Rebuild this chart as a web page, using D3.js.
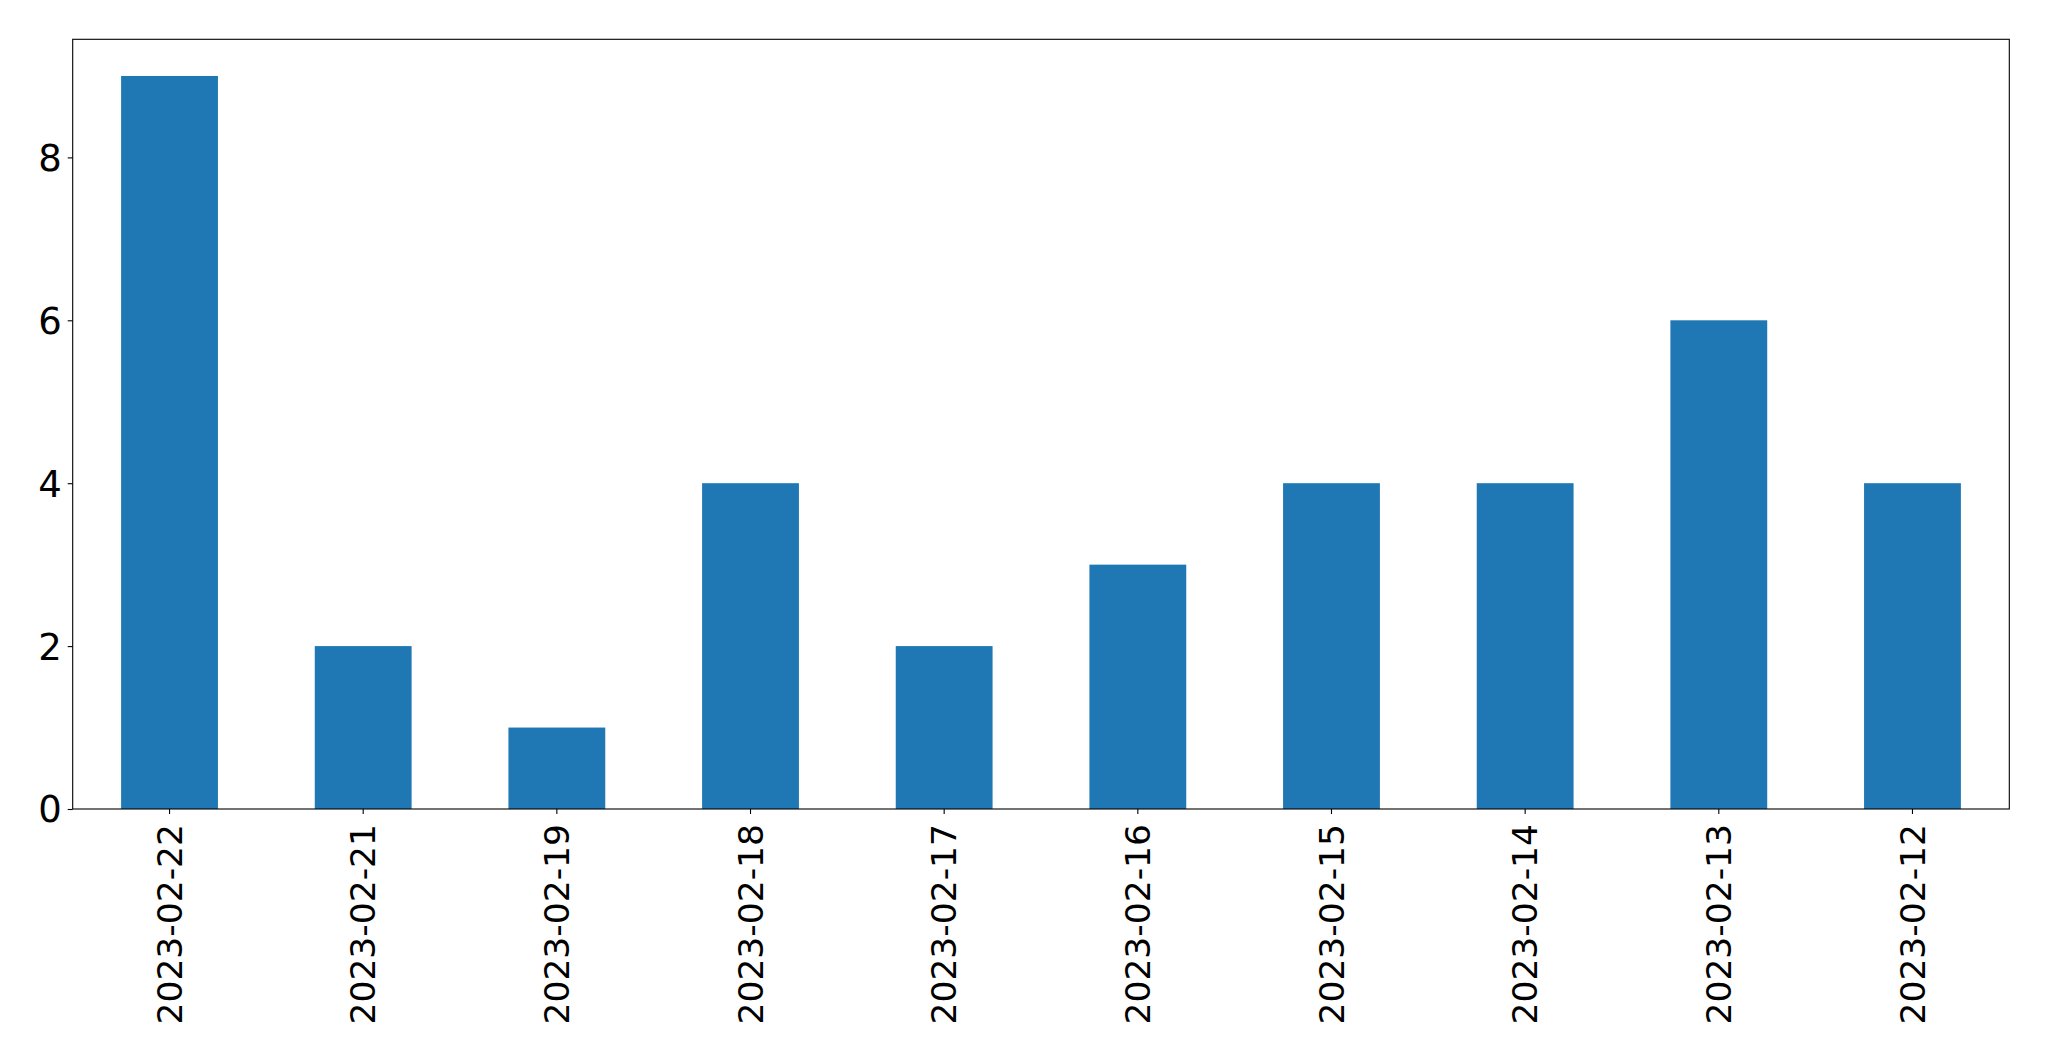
<!DOCTYPE html>
<html>
<head>
<meta charset="utf-8">
<script src="https://cdn.jsdelivr.net/npm/d3@7"></script>
<style>
  html, body { margin: 0; padding: 0; background: #fff; }
  svg { display: block; }
  text { font-family: "DejaVu Sans", sans-serif; fill: #000; }
</style>
</head>
<body>
<script>
const categories = ["2023-02-22","2023-02-21","2023-02-19","2023-02-18","2023-02-17","2023-02-16","2023-02-15","2023-02-14","2023-02-13","2023-02-12"];
const values = [9, 2, 1, 4, 2, 3, 4, 4, 6, 4];
const yTicks = [0, 2, 4, 6, 8];

const W = 2049, H = 1061;
const margin = {left: 72.7, right: W - 2009.3, top: 39.3, bottom: H - 809};
const iw = W - margin.left - margin.right;
const ih = H - margin.top - margin.bottom;

const svg = d3.select("body").append("svg").attr("width", W).attr("height", H);
const g = svg.append("g").attr("transform", `translate(${margin.left},${margin.top})`);

const x = d3.scaleBand().domain(categories).range([0, iw]).paddingInner(0.5).paddingOuter(0.25);
const y = d3.scaleLinear().domain([0, d3.max(values) * 1.05]).range([ih, 0]);

g.selectAll("rect.bar").data(categories).enter().append("rect")
  .attr("class", "bar")
  .attr("x", d => x(d))
  .attr("width", x.bandwidth())
  .attr("y", (d, i) => y(values[i]))
  .attr("height", (d, i) => ih - y(values[i]))
  .attr("fill", "#1f77b4");

// y axis
const yAxis = g.append("g").call(d3.axisLeft(y).tickValues(yTicks).tickSize(5).tickPadding(6).tickFormat(d3.format("d")));
yAxis.select(".domain").remove();
yAxis.selectAll("line").attr("stroke", "#000").attr("stroke-width", 1.1);
yAxis.selectAll("text").style("font-size", "37px").attr("dy", "0.35em").style("font-family", "DejaVu Sans");

// x axis
const xAxis = g.append("g").attr("transform", `translate(0,${ih})`)
  .call(d3.axisBottom(x).tickSize(5).tickPadding(0));
xAxis.select(".domain").remove();
xAxis.selectAll("line").attr("stroke", "#000").attr("stroke-width", 1.1);
xAxis.selectAll("text")
  .style("font-size", "34.5px")
  .style("font-family", "DejaVu Sans")
  .attr("text-anchor", "end")
  .attr("dy", "0.35em")
  .attr("y", 0)
  .attr("transform", "translate(0,15) rotate(-90)");

// frame
g.append("rect").attr("x", 0).attr("y", 0).attr("width", iw).attr("height", ih)
  .attr("fill", "none").attr("stroke", "#000").attr("stroke-width", 1.1);
</script>
</body>
</html>
